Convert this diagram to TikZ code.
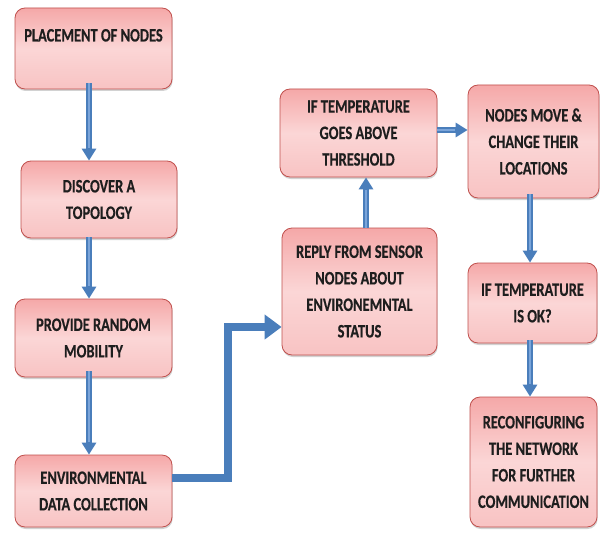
\documentclass[tikz,border=0pt]{standalone}
\usepackage{fontspec}
\setmainfont{Carlito}[FakeStretch=0.76, BoldFeatures={FakeStretch=0.76, FakeBold=0.4}]
\usetikzlibrary{arrows.meta,shadows}
\definecolor{boxtop}{HTML}{F5A8A8}
\definecolor{boxmid}{HTML}{FBD6D6}
\definecolor{boxbot}{HTML}{F8C3C3}
\definecolor{boxline}{HTML}{C0504D}
\definecolor{arrblue}{HTML}{4A7EBB}
\definecolor{arrlight}{HTML}{7BA5DA}
\definecolor{txt}{HTML}{1E1E1E}
\begin{document}
\begin{tikzpicture}[x=1pt,y=-1pt,
  box/.style={draw=boxline, line width=0.8pt, rounded corners=10pt,
    top color=boxtop, bottom color=boxbot, middle color=boxmid,
    align=center, font=\bfseries\fontsize{19}{26.5}\selectfont, text=txt,
    inner sep=0pt,
    drop shadow={shadow xshift=0.6pt, shadow yshift=-2pt, opacity=0.35, fill=gray}},
  varr/.style={draw=arrblue, line width=6.5pt,
    -{Triangle[width=14pt,length=12pt]},
    postaction={draw=arrlight, line width=2pt, -, shorten >=13pt}},
  bigarr/.style={draw=arrblue, line width=8.5pt, line join=miter,
    -{Triangle[width=24pt,length=17pt]}}]
\useasboundingbox (0,0) rectangle (601,532);
\fill[white] (0,0) rectangle (601,532);

\node[box, minimum width=157pt, minimum height=81pt] (b1) at (93.5,48.5) {PLACEMENT OF NODES\\ \mbox{}};
\node[box, minimum width=156pt, minimum height=77pt] (b2) at (99,199.5) {DISCOVER A\\TOPOLOGY};
\node[box, minimum width=157pt, minimum height=78pt] (b3) at (93.5,338) {PROVIDE RANDOM\\MOBILITY};
\node[box, minimum width=157pt, minimum height=72pt] (b4) at (93.5,491) {ENVIRONMENTAL\\DATA COLLECTION};
\node[box, minimum width=155pt, minimum height=127pt] (b5) at (359.5,291.5) {REPLY FROM SENSOR\\NODES ABOUT\\ENVIRONEMNTAL\\STATUS};
\node[box, minimum width=157pt, minimum height=88pt] (b6) at (358.5,133) {IF TEMPERATURE\\GOES ABOVE\\THRESHOLD};
\node[box, minimum width=131pt, minimum height=113pt] (b7) at (533.5,141.5) {NODES MOVE \&\\CHANGE THEIR\\LOCATIONS};
\node[box, minimum width=129pt, minimum height=80pt] (b8) at (532.5,303) {IF TEMPERATURE\\IS OK?};
\node[box, minimum width=127pt, minimum height=130pt] (b9) at (533.5,462) {RECONFIGURING\\THE NETWORK\\FOR FURTHER\\COMMUNICATION};

\coordinate (lx) at (89,0);
\coordinate (mx) at (366,0);
\coordinate (rx) at (530,0);
\coordinate (k1) at (228,478);
\coordinate (k2) at (228,327);

\draw[varr] ([yshift=6pt]b1.south -| lx) -- (b2.north -| lx);
\draw[varr] ([yshift=1pt]b2.south -| lx) -- (b3.north -| lx);
\draw[varr] ([yshift=6pt]b3.south -| lx) -- (b4.north -| lx);
\draw[bigarr] (b4.east |- k1) -- (k1) -- (k2) -- (k2 -| b5.west);
\draw[varr] (b5.north -| mx) -- (b6.south -| mx);
\draw[varr] (b6.east |- 0,130) -- (b7.west |- 0,130);
\draw[varr] ([yshift=4pt]b7.south -| rx) -- (b8.north -| rx);
\draw[varr] ([yshift=3pt]b8.south -| rx) -- (b9.north -| rx);
\end{tikzpicture}
\end{document}
